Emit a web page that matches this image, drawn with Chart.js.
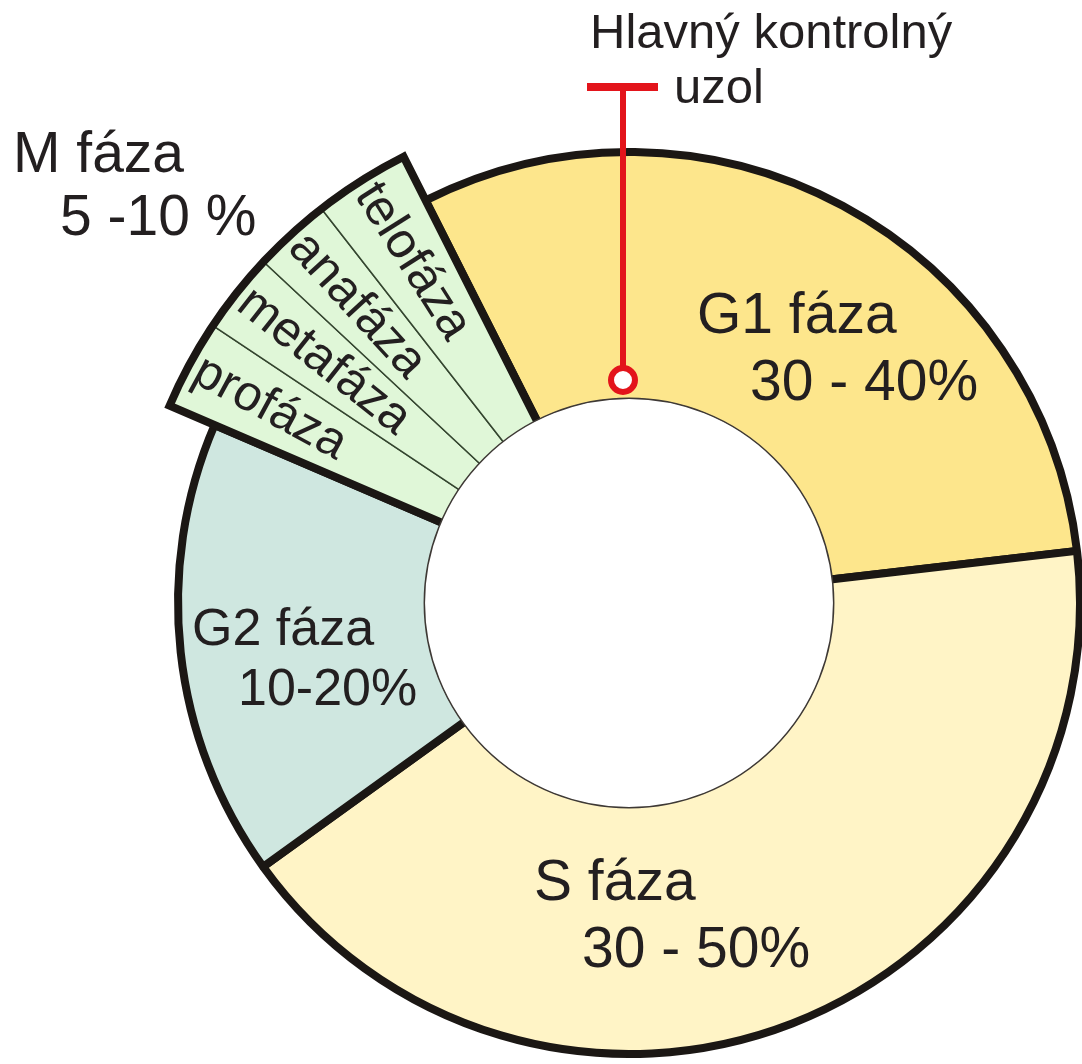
<!DOCTYPE html>
<html>
<head>
<meta charset="utf-8">
<script src="https://cdn.jsdelivr.net/npm/chart.js@4.4.1/dist/chart.umd.min.js"></script>
<style>
  html, body { margin: 0; padding: 0; background: #ffffff; }
  #wrap { width: 1082px; height: 1064px; position: relative; }
</style>
</head>
<body>
<div id="wrap"><canvas id="cycle-chart"></canvas></div>
<script>
// phases of the cell cycle, clockwise from the G1 start
const phases = ['G1 fáza', 'S fáza', 'G2 fáza', 'profáza', 'metafáza', 'anafáza', 'telofáza'];
// share of the circle, in %
const shares = [30.6, 41.9, 16.4, 2.9, 2.6, 2.5, 3.1];
const phaseRanges = ['30 - 40%', '30 - 50%', '10-20%'];
const mPhaseTitle = ['M fáza', '5 -10 %'];
const checkpointTitle = ['Hlavný kontrolný', 'uzol'];
const mainCount = 3;

const fills = ['#fde68c', '#fff4c6', '#cfe7e0', '#e0f7d8', '#e0f7d8', '#e0f7d8', '#e0f7d8'];
const INK = '#231f20';
const LINE = '#1b1714';
const FONT = '"Liberation Sans", Arial, sans-serif';
const M_RADIUS = 500;

// text anchors relative to ring centre [dx, dy, size]
const mainLabelPos = [
  [[68, -270, 57], [121, -203, 57]],
  [[-95, 297, 57], [-47, 364, 57]],
  [[-437, 42, 52], [-391, 102, 52]],
];
const mTitlePos = [[-616, -431, 57], [-569, -368, 57]];
const checkpointPos = [[-39, -555, 49], [45, -500, 49]];

const cyclePlugin = {
  id: 'cycle',
  afterDatasetUpdate(chart, args) {
    args.meta.data.forEach((arc, i) => {
      if (i >= mainCount) arc.outerRadius = M_RADIUS;
    });
  },
  afterDatasetsDraw(chart) {
    let ctx = chart.ctx;
    let arcs = chart.getDatasetMeta(0).data;
    let cx = arcs[0].x, cy = arcs[0].y;
    let inner = arcs[0].innerRadius;
    let start = arcs[mainCount].startAngle;
    let end = arcs[arcs.length - 1].endAngle;

    ctx.save();
    // M phase outline
    ctx.lineWidth = 8;
    ctx.strokeStyle = LINE;
    ctx.lineJoin = 'miter';
    ctx.beginPath();
    ctx.moveTo(cx + inner * Math.cos(start), cy + inner * Math.sin(start));
    ctx.arc(cx, cy, M_RADIUS, start, end);
    ctx.lineTo(cx + inner * Math.cos(end), cy + inner * Math.sin(end));
    ctx.stroke();

    // hole with thin rim
    ctx.beginPath();
    ctx.arc(cx, cy, inner + 4, 0, Math.PI * 2);
    ctx.fillStyle = '#ffffff';
    ctx.fill();
    ctx.lineWidth = 1.5;
    ctx.strokeStyle = '#3e3935';
    ctx.stroke();

    ctx.fillStyle = INK;
    ctx.textAlign = 'left';
    ctx.textBaseline = 'alphabetic';
    const put = (txt, p) => {
      ctx.font = p[2] + 'px ' + FONT;
      ctx.fillText(txt, cx + p[0], cy + p[1]);
    };
    for (let i = 0; i < mainCount; i++) {
      put(phases[i], mainLabelPos[i][0]);
      put(phaseRanges[i], mainLabelPos[i][1]);
    }
    put(mPhaseTitle[0], mTitlePos[0]);
    put(mPhaseTitle[1], mTitlePos[1]);
    put(checkpointTitle[0], checkpointPos[0]);
    put(checkpointTitle[1], checkpointPos[1]);

    // sub-phase names along the radius
    ctx.font = '50px ' + FONT;
    ctx.textBaseline = 'middle';
    for (let i = mainCount; i < arcs.length; i++) {
      let mid = (arcs[i].startAngle + arcs[i].endAngle) / 2;
      let r = 492;
      ctx.save();
      ctx.translate(cx + r * Math.cos(mid), cy + r * Math.sin(mid));
      ctx.rotate(mid + Math.PI);
      ctx.fillText(phases[i], 0, 0);
      ctx.restore();
    }

    // restriction point marker
    ctx.strokeStyle = '#e3141b';
    ctx.lineWidth = 8;
    ctx.beginPath();
    ctx.moveTo(cx - 42, cy - 516);
    ctx.lineTo(cx + 29, cy - 516);
    ctx.stroke();
    ctx.lineWidth = 6;
    ctx.beginPath();
    ctx.moveTo(cx - 6, cy - 516);
    ctx.lineTo(cx - 6, cy - 235);
    ctx.stroke();
    ctx.beginPath();
    ctx.arc(cx - 6, cy - 223, 12, 0, Math.PI * 2);
    ctx.fillStyle = '#ffffff';
    ctx.fill();
    ctx.stroke();
    ctx.restore();
  }
};

let ctx = document.getElementById('cycle-chart');
new Chart(ctx, {
  type: 'doughnut',
  data: {
    labels: phases,
    datasets: [{
      data: shares,
      backgroundColor: fills,
      borderColor: phases.map((p, i) => i < mainCount ? LINE : '#34452f'),
      borderWidth: phases.map((p, i) => i < mainCount ? 8 : 1.5),
      borderAlign: 'center',
      clip: false,
    }]
  },
  options: {
    responsive: true,
    maintainAspectRatio: false,
    animation: false,
    events: [],
    rotation: -26.8,
    radius: 451,
    cutout: '44.5%',
    layout: {
      padding: { left: 176, top: 142, right: 0, bottom: 0 }
    },
    plugins: {
      legend: { display: false },
      tooltip: { enabled: false }
    }
  },
  plugins: [cyclePlugin]
});
</script>
</body>
</html>
